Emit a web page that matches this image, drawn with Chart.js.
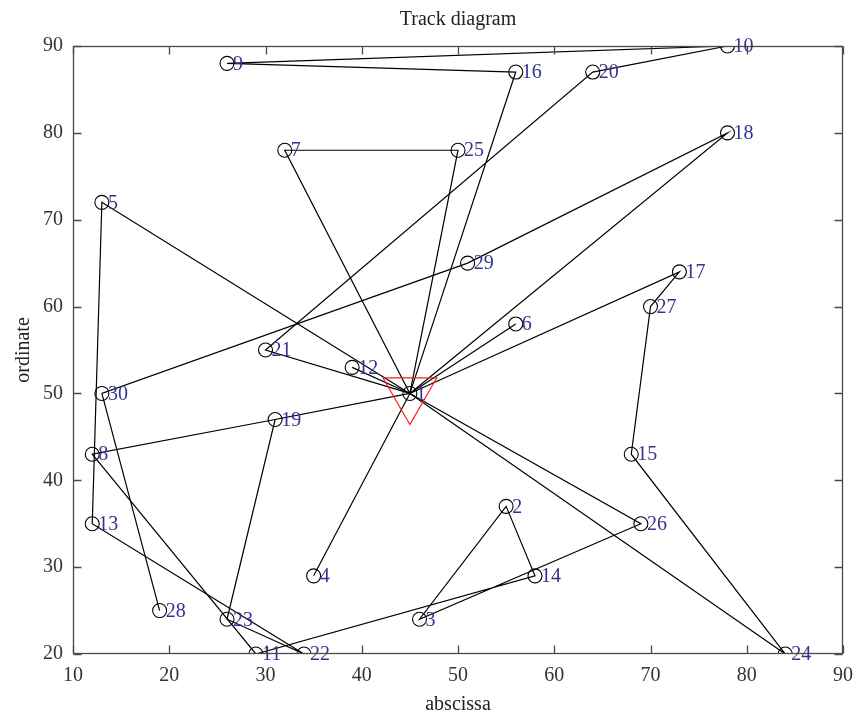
<!DOCTYPE html>
<html>
<head>
<meta charset="utf-8">
<script src="https://cdn.jsdelivr.net/npm/chart.js@4"></script>
<style>
  html, body { margin: 0; padding: 0; background: #fff; }
  #wrap { width: 855px; height: 716px; }
</style>
</head>
<body>
<div id="wrap"><canvas id="trackChart" width="855" height="716"></canvas></div>
<script>
// node numbers and coordinates (node 1 = depot)
const nodeIds = ['1','2','3','4','5','6','7','8','9','10','11','12','13','14','15',
                 '16','17','18','19','20','21','22','23','24','25','26','27','28','29','30'];
const nodeX = [45,55,46,35,13,56,32,12,26,78,29,39,12,58,68,56,73,78,31,64,30,34,26,84,50,69,70,19,51,13];
const nodeY = [50,37,24,29,72,58,78,43,88,90,20,53,35,29,43,87,64,80,47,87,55,20,24,20,78,35,60,25,65,50];

// vehicle tours, as node numbers
const routes = [
    [1,21,20,10,9,16,1],
    [1,7,25,1],
    [1,18,29,30,28],
    [1,5,13,22,23,19,1],
    [1,26,3,2,14,11,8,19],
    [1,17,27,15,24,1],
    [1,4],
    [1,6],
    [1,12]
];

const depotX = [45];
const depotY = [50];

const xTicks = [10,20,30,40,50,60,70,80,90];
const yTicks = [20,30,40,50,60,70,80,90];

const serif = "'Liberation Serif', 'DejaVu Serif', serif";
const labelColor = '#34338f';
const axisColor = '#4a4a4a';
const fontSize = 20;

Chart.defaults.font.family = serif;

// =====================
// DATASETS
// =====================
const routeSets = routes.map(r => ({
    xAxisID: 'x',
    data: r.map(n => ({ x: nodeX[n - 1], y: nodeY[n - 1] })),
    showLine: true,
    borderColor: '#000',
    borderWidth: 1.2,
    pointRadius: 0,
    fill: false,
}));

const nodeSet = {
    xAxisID: 'x',
    data: nodeX.map((x, i) => ({ x: x, y: nodeY[i] })),
    pointStyle: 'circle',
    pointRadius: 7,
    borderColor: '#000',
    borderWidth: 1.1,
    backgroundColor: 'transparent',
};

const depotSet = {
    xAxisID: 'x',
    data: depotX.map((x, i) => ({ x: x, y: depotY[i] })),
    pointStyle: 'triangle',
    rotation: 180,
    pointRadius: 31,
    borderColor: '#ff1a1a',
    borderWidth: 1.2,
    backgroundColor: 'transparent',
};

// =====================
// PLUGINS
// =====================
const nodeLabels = {
    id: 'nodeLabels',
    afterDatasetsDraw(chart) {
        const { ctx, scales } = chart;
        ctx.save();
        ctx.font = fontSize + 'px ' + serif;
        ctx.fillStyle = labelColor;
        ctx.textAlign = 'left';
        ctx.textBaseline = 'middle';
        nodeIds.forEach((id, i) => {
            const px = scales.x.getPixelForValue(nodeX[i]);
            const py = scales.y.getPixelForValue(nodeY[i]);
            ctx.fillText(id, px + 6, py + 1);
        });
        ctx.restore();
    }
};

// box round the plot with ticks pointing inward
const boxFrame = {
    id: 'boxFrame',
    afterDraw(chart) {
        const { ctx, chartArea: a, scales } = chart;
        const L = Math.round(a.left) + 0.5, R = Math.round(a.right) - 0.5;
        const T = Math.round(a.top) + 0.5, B = Math.round(a.bottom) - 0.5;
        const len = 8;
        ctx.save();
        ctx.strokeStyle = axisColor;
        ctx.lineWidth = 1.3;
        ctx.strokeRect(L, T, R - L, B - T);
        ctx.beginPath();
        xTicks.forEach(v => {
            const px = Math.round(scales.x.getPixelForValue(v)) + 0.5;
            ctx.moveTo(px, B); ctx.lineTo(px, B - len);
            ctx.moveTo(px, T); ctx.lineTo(px, T + len);
        });
        yTicks.forEach(v => {
            const py = Math.round(scales.y.getPixelForValue(v)) + 0.5;
            ctx.moveTo(L, py); ctx.lineTo(L + len, py);
            ctx.moveTo(R, py); ctx.lineTo(R - len, py);
        });
        ctx.stroke();
        ctx.restore();
    }
};

const noPad = s => { s.paddingLeft = 0; s.paddingRight = 0; s.paddingTop = 0; s.paddingBottom = 0; };

// =====================
// CHART
// =====================
new Chart(document.getElementById('trackChart').getContext('2d'), {
    type: 'scatter',
    data: { datasets: [depotSet, nodeSet, ...routeSets] },
    options: {
        responsive: false,
        animation: false,
        layout: { autoPadding: false, padding: { left: 0, right: 12, top: 0, bottom: 0 } },
        plugins: {
            legend: { display: false },
            tooltip: { enabled: false },
            title: { display: false },
        },
        scales: {
            x: {
                type: 'linear',
                min: 10,
                max: 90,
                afterBuildTicks: s => { s.ticks = xTicks.map(v => ({ value: v })); },
                ticks: { font: { size: fontSize }, color: '#333', padding: 10, maxRotation: 0 },
                grid: { display: false, drawTicks: false },
                border: { display: false },
                title: {
                    display: true,
                    text: 'abscissa',
                    color: '#222',
                    font: { size: fontSize },
                    padding: { top: 0, bottom: -1 },
                },
                afterFit: s => { s.height = 62; noPad(s); },
            },
            // top axis only carries the chart title, centred on the plot
            xTop: {
                type: 'linear',
                position: 'top',
                min: 10,
                max: 90,
                ticks: { display: false },
                grid: { display: false, drawTicks: false },
                border: { display: false },
                title: {
                    display: true,
                    text: 'Track diagram',
                    color: '#222',
                    font: { size: fontSize },
                    padding: { top: 8, bottom: 0 },
                },
                afterFit: s => { s.height = 46; noPad(s); },
            },
            y: {
                type: 'linear',
                min: 20,
                max: 90,
                afterBuildTicks: s => { s.ticks = yTicks.map(v => ({ value: v })); },
                ticks: { font: { size: fontSize }, color: '#333', padding: 10 },
                grid: { display: false, drawTicks: false },
                border: { display: false },
                title: {
                    display: true,
                    text: 'ordinate',
                    color: '#222',
                    font: { size: fontSize },
                    padding: { top: 12, bottom: 0 },
                },
                afterFit: s => { s.width = 73; noPad(s); },
            }
        }
    },
    plugins: [nodeLabels, boxFrame]
});
</script>
</body>
</html>
